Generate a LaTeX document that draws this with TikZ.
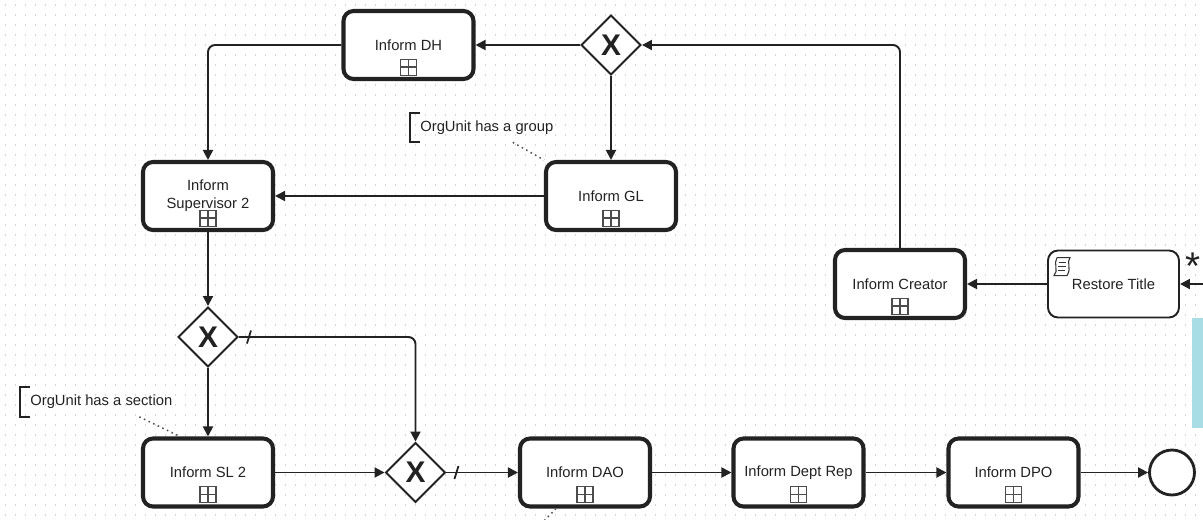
\documentclass[tikz,border=0pt]{standalone}
\usepackage{fontspec}
\setmainfont{Liberation Sans}
\usetikzlibrary{arrows.meta, positioning, calc, shapes.geometric, decorations.markings}
\definecolor{gridgray}{HTML}{D6D6D6}
\definecolor{panelblue}{HTML}{A9DDE5}
\definecolor{ink}{HTML}{222222}

\begin{document}
\begin{tikzpicture}[
    task/.style={draw=ink, rounded corners=0.2cm, line width=2.3pt, fill=white, minimum width=2.6cm, minimum height=1.36cm, align=center, font=\fontsize{8.4}{10.2}\selectfont, text=ink},
    script/.style={task, line width=1.1pt, minimum width=2.62cm, minimum height=1.34cm},
    gate/.style={diamond, aspect=1, draw=ink, line width=1.1pt, fill=white, minimum size=1.2cm, inner sep=0pt, font=\fontsize{17}{17}\selectfont\bfseries, text=ink},
    endev/.style={circle, draw=ink, line width=1.6pt, fill=white, minimum size=0.9cm, inner sep=0pt},
    marker/.style={draw=gray!60!black, line width=0.6pt, fill=white, minimum size=0.32cm, inner sep=0pt, path picture={\draw[line width=0.7pt] (path picture bounding box.north) -- (path picture bounding box.south) (path picture bounding box.west) -- (path picture bounding box.east);}},
    note/.style={anchor=west, minimum height=0.58cm, inner xsep=0.2cm, font=\fontsize{8.4}{10}\selectfont, text=ink},
    flow/.style={-{Triangle[length=0.2cm,width=0.2cm]}, line width=1.1pt, draw=ink, rounded corners=4pt},
    defflow/.style={flow, postaction={decorate}, decoration={markings, mark=at position 0.2cm with {\draw[arrows=-, line width=1pt, ink] (-0.04,-0.13) -- (0.04,0.13);}}},
    assoc/.style={dotted, line width=0.9pt, draw=gray!70!black},
    >=Stealth
]
\useasboundingbox (0,0) rectangle (24.06,-10.38);
\foreach \r in {0,...,51}
  \draw[gridgray, line width=0.7pt, dash pattern=on 0.7pt off 4.99pt] (0.1,-0.1-0.2*\r) -- (24.06,-0.1-0.2*\r);
\fill[panelblue] (23.84,-6.36) rectangle (24.06,-8.56);

\node[task] (dh) at (8.17,-0.9) {Inform DH};
\node[gate] (gw1) at (12.22,-0.9) {X};
\node[task] (gl) at (12.22,-3.92) {Inform GL};
\node[task] (sup) at (4.16,-3.92) {Inform\\Supervisor 2};
\node[task] (creator) at (18.0,-5.68) {Inform Creator};
\node[script] (restore) at (22.27,-5.68) {Restore Title};
\node[gate] (gw2) at (4.16,-6.74) {X};
\node[task] (sl) at (4.16,-9.45) {Inform SL 2};
\node[gate] (gw3) at (8.31,-9.45) {X};
\node[task] (dao) at (11.70,-9.45) {Inform DAO};
\node[task] (rep) at (15.97,-9.45) {Inform Dept Rep};
\node[task] (dpo) at (20.27,-9.45) {Inform DPO};
\node[endev] (end) at (23.44,-9.45) {};
\node[font=\fontsize{22}{22}\selectfont, text=ink] (star) at (23.86,-5.32) {*};

\foreach \t in {dh,gl,sup,creator,sl,dao,rep,dpo}
  \node[marker] (\t-mk) at ([yshift=0.28cm]\t.south) {};

\begin{scope}[shift={($(restore.north west)+(0.3,-0.34)$)}, line width=0.6pt]
  \draw[gray!40!black, fill=white] (-0.1,0.18) -- (0.16,0.18) .. controls (0.08,0.08) and (0.2,-0.02) .. (0.1,-0.18) -- (-0.16,-0.18) .. controls (-0.06,-0.08) and (-0.18,0.06) .. (-0.1,0.18);
  \draw[gray!40!black] (-0.07,0.08) -- (0.08,0.08) (-0.08,0) -- (0.08,0) (-0.08,-0.08) -- (0.06,-0.08);
\end{scope}

\node[note] (ngroup) at (8.2,-2.55) {OrgUnit has a group};
\draw[line width=1.1pt, ink] ([xshift=0.2cm]ngroup.north west) -| (ngroup.south west) -- ++(0.2,0);
\node[note] (nsection) at (0.4,-8.04) {OrgUnit has a section};
\draw[line width=1.1pt, ink] ([xshift=0.2cm]nsection.north west) -| (nsection.south west) -- ++(0.2,0);
\coordinate (daonote) at (10.8,-10.5);
\draw[assoc] ([xshift=0.52cm]ngroup.south) -- (gl.north west);
\draw[assoc] ([xshift=0.76cm]nsection.south) -- ([xshift=0.78cm]sl.north west);
\draw[assoc] ([xshift=-0.58cm]dao.south) -- (daonote);

\coordinate (entry) at (24.06,-5.68);
\draw[flow] (entry) -- (restore);
\draw[flow] (restore) -- (creator);
\draw[flow] (creator.north) |- (gw1.east);
\draw[flow] (gw1) -- (dh);
\draw[flow] (gw1) -- (gl);
\draw[flow] (dh.west) -| (sup.north);
\draw[flow] (gl) -- (sup);
\draw[flow] (sup) -- (gw2);
\draw[defflow] (gw2.east) -| (gw3.north);
\draw[flow] (gw2) -- (sl);
\draw[flow] (sl) -- (gw3);
\draw[defflow] (gw3) -- (dao);
\draw[flow] (dao) -- (rep);
\draw[flow] (rep) -- (dpo);
\draw[flow] (dpo) -- (end);
\end{tikzpicture}
\end{document}
